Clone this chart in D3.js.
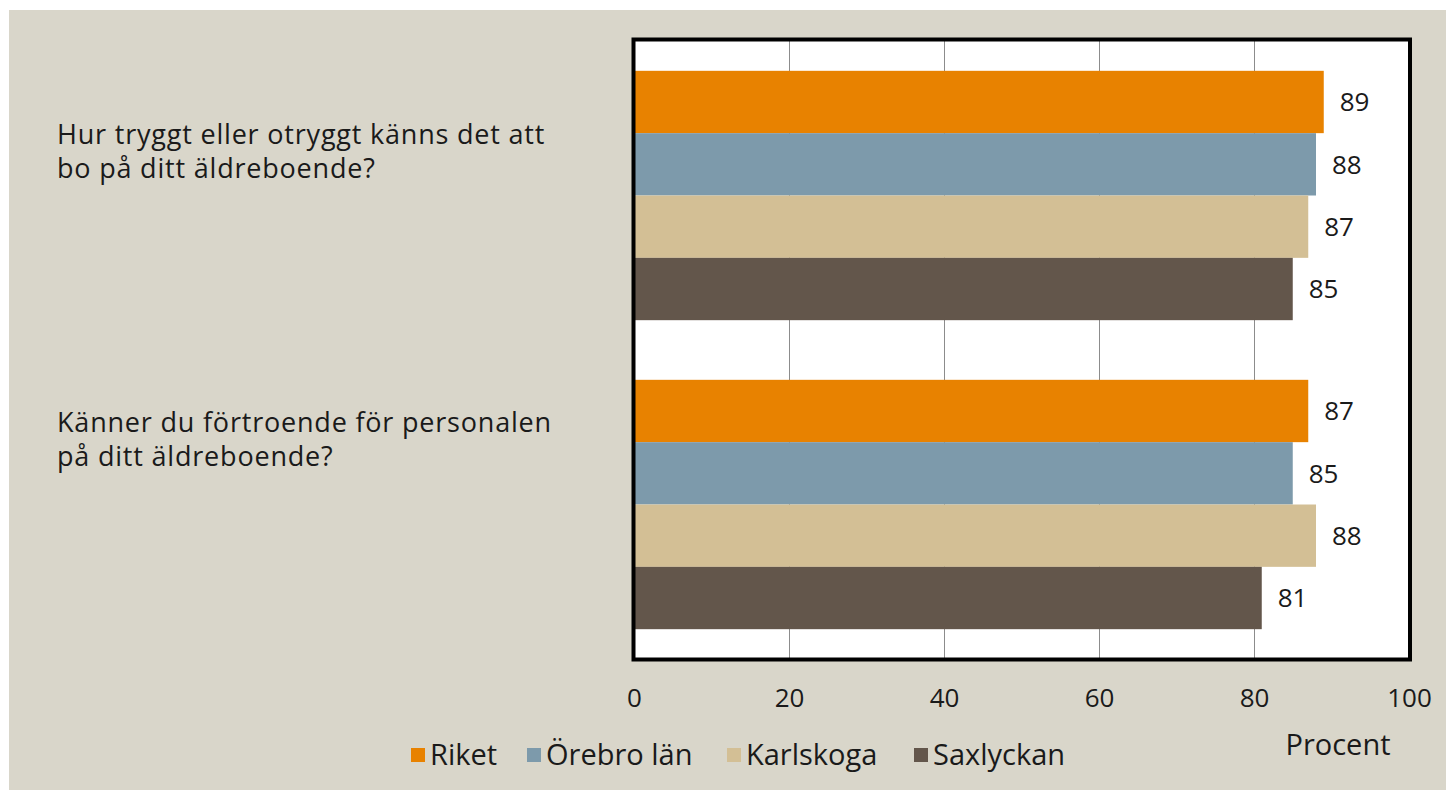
<!DOCTYPE html>
<html>
<head>
<meta charset="utf-8">
<script src="https://cdn.jsdelivr.net/npm/d3@7"></script>
<style>
  html, body { margin: 0; padding: 0; background: #ffffff; }
  svg { display: block; }
  text { font-family: "Open Sans", "DejaVu Sans", sans-serif; fill: #1a1a1a; }
</style>
</head>
<body>
<svg id="chart" width="1446" height="790"></svg>
<script>
const categories = [
  ["Hur tryggt eller otryggt känns det att", "bo på ditt äldreboende?"],
  ["Känner du förtroende för personalen", "på ditt äldreboende?"]
];
const categoryKeys = ["q1", "q2"];
const seriesNames = ["Riket", "Örebro län", "Karlskoga", "Saxlyckan"];
const riket = [89, 87];
const orebroLan = [88, 85];
const karlskoga = [87, 88];
const saxlyckan = [85, 81];
const seriesColors = ["#e88200", "#7d9aab", "#d3bf95", "#63564b"];
const xTicks = [0, 20, 40, 60, 80, 100];
const axisTitle = "Procent";

const seriesValues = [riket, orebroLan, karlskoga, saxlyckan];

const svg = d3.select("#chart");

// background panel
svg.append("rect").attr("x", 9).attr("y", 10).attr("width", 1446 - 9).attr("height", 790 - 10)
  .attr("fill", "#d9d6ca");

const plot = { left: 634, right: 1409, top: 41, bottom: 659 };

const x = d3.scaleLinear().domain([0, 100]).range([plot.left, plot.right]);
const y0 = d3.scaleBand().domain(categoryKeys).range([plot.top, plot.bottom])
  .paddingInner(0.193).paddingOuter(0.0965);
const y1 = d3.scaleBand().domain(seriesNames).range([0, y0.bandwidth()]);

// plot background
svg.append("rect").attr("x", plot.left).attr("y", plot.top)
  .attr("width", plot.right - plot.left).attr("height", plot.bottom - plot.top)
  .attr("fill", "#ffffff");

// gridlines
const grid = d3.axisBottom(x).tickValues(xTicks).tickSize(-(plot.bottom - plot.top)).tickFormat("");
svg.append("g").attr("transform", `translate(0,${plot.bottom})`).call(grid)
  .call(g => g.select(".domain").remove())
  .call(g => g.selectAll("line").attr("stroke", "#8c8c8c").attr("stroke-width", 1));

// bars
const groups = svg.append("g").selectAll("g").data(categoryKeys).join("g")
  .attr("transform", d => `translate(0,${y0(d)})`);

groups.each(function(cat, ci) {
  const g = d3.select(this);
  seriesNames.forEach((s, si) => {
    const v = seriesValues[si][ci];
    g.append("rect")
      .attr("x", x(0))
      .attr("y", y1(s))
      .attr("width", x(v) - x(0))
      .attr("height", y1.bandwidth())
      .attr("fill", seriesColors[si]);
    g.append("text")
      .attr("x", x(v) + 16)
      .attr("y", y1(s) + y1.bandwidth() / 2)
      .attr("dy", "0.36em")
      .attr("font-size", 26)
      .text(v);
  });
});

// frame
svg.append("rect").attr("x", plot.left - 0.5).attr("y", plot.top - 1.5)
  .attr("width", plot.right - plot.left + 1.5).attr("height", plot.bottom - plot.top + 2)
  .attr("fill", "none").attr("stroke", "#000").attr("stroke-width", 4);

// x axis labels
const xAxis = d3.axisBottom(x).tickValues(xTicks).tickSize(0).tickPadding(0);
svg.append("g").attr("transform", `translate(0,${plot.bottom})`).call(xAxis)
  .call(g => g.select(".domain").remove())
  .call(g => g.selectAll("text").attr("font-size", 26).attr("y", 48).attr("dy", 0)
    .attr("font-family", '"Open Sans", sans-serif').attr("fill", "#1a1a1a"));

// axis title
svg.append("text").attr("x", 1338).attr("y", 755).attr("text-anchor", "middle")
  .attr("font-size", 29).text(axisTitle);

// category labels
const labelBaselines = [144, 432];
categories.forEach((lines, ci) => {
  lines.forEach((ln, li) => {
    svg.append("text").attr("x", 57).attr("y", labelBaselines[ci] + li * 34)
      .attr("font-size", 27).attr("letter-spacing", 0.8).text(ln);
  });
});

// legend
const legendX = [411, 527, 727, 914];
const legend = svg.append("g");
seriesNames.forEach((s, si) => {
  legend.append("rect").attr("x", legendX[si]).attr("y", 748).attr("width", 14).attr("height", 14)
    .attr("fill", seriesColors[si]);
  legend.append("text").attr("x", legendX[si] + 19).attr("y", 765).attr("font-size", 29).text(s);
});
</script>
</body>
</html>
